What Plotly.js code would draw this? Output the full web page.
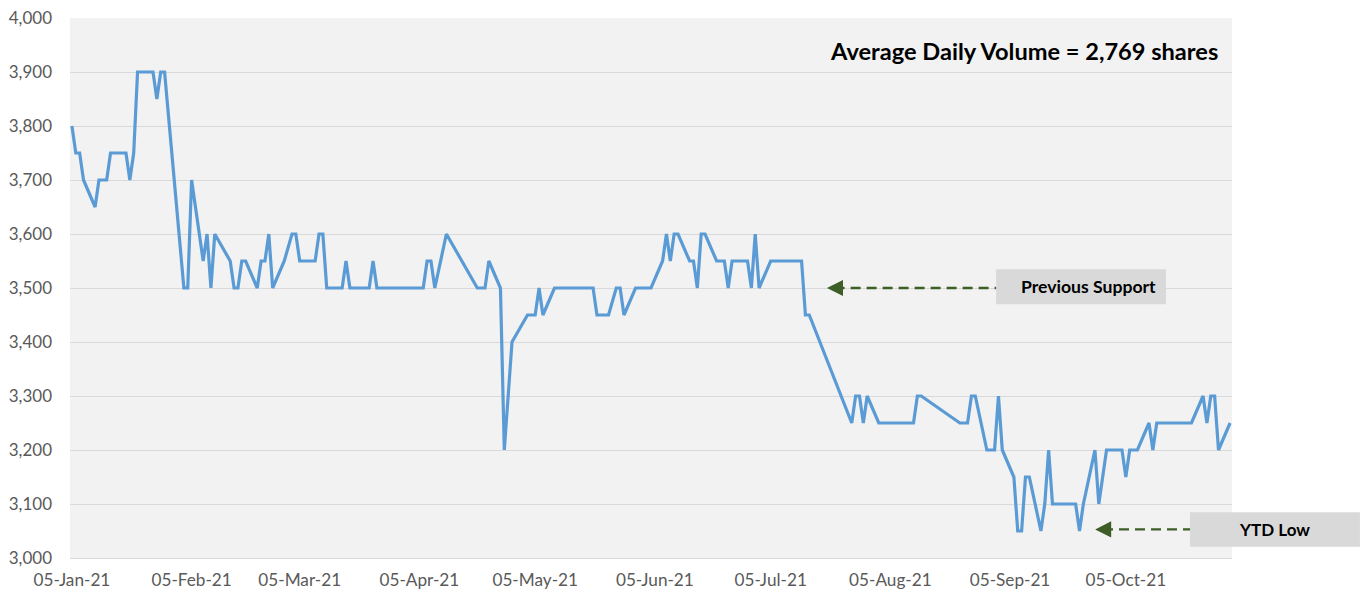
<!DOCTYPE html>
<html>
<head>
<meta charset="utf-8">
<script src="https://cdn.plot.ly/plotly-3.0.1.min.js"></script>
<style>
  html, body { margin: 0; padding: 0; background: #ffffff; }
  #chart { width: 1366px; height: 590px; }
</style>
</head>
<body>
<div id="chart"></div>
<script>
// ---- data ----
const tradeDates = [
  "2021-01-05","2021-01-06","2021-01-07","2021-01-08","2021-01-11","2021-01-12","2021-01-13","2021-01-14","2021-01-15",
  "2021-01-18","2021-01-19","2021-01-20","2021-01-21","2021-01-22","2021-01-25","2021-01-26","2021-01-27","2021-01-28","2021-01-29",
  "2021-02-03","2021-02-04","2021-02-05","2021-02-08","2021-02-09","2021-02-10","2021-02-11","2021-02-15","2021-02-16","2021-02-17",
  "2021-02-18","2021-02-19","2021-02-22","2021-02-23","2021-02-24","2021-02-25","2021-02-26","2021-03-01","2021-03-03","2021-03-04",
  "2021-03-05","2021-03-08","2021-03-09","2021-03-10","2021-03-11","2021-03-12","2021-03-15","2021-03-16","2021-03-17","2021-03-18",
  "2021-03-19","2021-03-22","2021-03-23","2021-03-24","2021-03-25","2021-03-26","2021-03-29","2021-03-30","2021-03-31","2021-04-01",
  "2021-04-06","2021-04-07","2021-04-08","2021-04-09","2021-04-12","2021-04-20","2021-04-21","2021-04-22","2021-04-23","2021-04-26",
  "2021-04-27","2021-04-29","2021-05-03","2021-05-04","2021-05-05","2021-05-06","2021-05-07","2021-05-10","2021-05-11","2021-05-12",
  "2021-05-13","2021-05-14","2021-05-17","2021-05-18","2021-05-19","2021-05-20","2021-05-21","2021-05-24","2021-05-26","2021-05-27",
  "2021-05-28","2021-05-31","2021-06-01","2021-06-02","2021-06-03","2021-06-04","2021-06-07","2021-06-08","2021-06-09","2021-06-10",
  "2021-06-11","2021-06-14","2021-06-15","2021-06-16","2021-06-17","2021-06-18","2021-06-21","2021-06-22","2021-06-23","2021-06-24",
  "2021-06-25","2021-06-28","2021-06-29","2021-06-30","2021-07-01","2021-07-02","2021-07-05","2021-07-06","2021-07-07","2021-07-08",
  "2021-07-09","2021-07-12","2021-07-13","2021-07-14","2021-07-15","2021-07-26","2021-07-27","2021-07-28","2021-07-29","2021-07-30",
  "2021-08-02","2021-08-03","2021-08-04","2021-08-05","2021-08-06","2021-08-10","2021-08-11","2021-08-12","2021-08-13","2021-08-23",
  "2021-08-24","2021-08-25","2021-08-26","2021-08-27","2021-08-30","2021-08-31","2021-09-01","2021-09-02","2021-09-03","2021-09-06",
  "2021-09-07","2021-09-08","2021-09-09","2021-09-10","2021-09-13","2021-09-14","2021-09-15","2021-09-16","2021-09-17","2021-09-20",
  "2021-09-21","2021-09-22","2021-09-23","2021-09-24","2021-09-27","2021-09-28","2021-09-30","2021-10-01","2021-10-04","2021-10-05",
  "2021-10-06","2021-10-07","2021-10-08","2021-10-11","2021-10-12","2021-10-13","2021-10-14","2021-10-15","2021-10-18","2021-10-19",
  "2021-10-20","2021-10-21","2021-10-22","2021-10-25","2021-10-26","2021-10-27","2021-10-28","2021-10-29","2021-11-01"
];
const closePrices = [
  3800,3750,3750,3700,3650,3700,3700,3700,3750,
  3750,3750,3700,3750,3900,3900,3900,3850,3900,3900,
  3500,3500,3700,3550,3600,3500,3600,3550,3500,3500,
  3550,3550,3500,3550,3550,3600,3500,3550,3600,3600,
  3550,3550,3550,3600,3600,3500,3500,3500,3550,3500,
  3500,3500,3500,3550,3500,3500,3500,3500,3500,3500,
  3500,3550,3550,3500,3600,3500,3500,3500,3550,3500,
  3200,3400,3450,3450,3450,3500,3450,3500,3500,3500,
  3500,3500,3500,3500,3500,3500,3450,3450,3500,3500,
  3450,3500,3500,3500,3500,3500,3550,3600,3550,3600,
  3600,3550,3550,3500,3600,3600,3550,3550,3550,3500,
  3550,3550,3550,3500,3600,3500,3550,3550,3550,3550,
  3550,3550,3550,3450,3450,3250,3300,3300,3250,3300,
  3250,3250,3250,3250,3250,3250,3250,3300,3300,3250,
  3250,3250,3300,3300,3200,3200,3200,3300,3200,3150,
  3050,3050,3150,3150,3050,3100,3200,3100,3100,3100,
  3100,3100,3050,3100,3200,3100,3200,3200,3200,3150,
  3200,3200,3200,3250,3200,3250,3250,3250,3250,3250,
  3250,3250,3250,3300,3250,3300,3300,3200,3250
];
const tickDates = ["2021-01-05","2021-02-05","2021-03-05","2021-04-05","2021-05-05","2021-06-05","2021-07-05","2021-08-05","2021-09-05","2021-10-05"];
const tickLabels = ["05-Jan-21","05-Feb-21","05-Mar-21","05-Apr-21","05-May-21","05-Jun-21","05-Jul-21","05-Aug-21","05-Sep-21","05-Oct-21"];
const yRange = [3000, 4000];
const titleText = "Average Daily Volume = 2,769 shares";
const supportLabel = "Previous Support";
const supportLevel = 3500;
const lowLabel = "YTD Low";
const lowLevel = 3050;

// ---- chart ----
const FONT = "Lato, 'Open Sans', sans-serif";
const arrowGreen = "#3d5f27";

const trace = {
  x: tradeDates,
  y: closePrices,
  type: "scatter",
  mode: "lines",
  line: { color: "#5b9bd5", width: 3.2 },
  hoverinfo: "x+y"
};

const layout = {
  width: 1366,
  height: 590,
  margin: { l: 70, r: 134, t: 18, b: 32, pad: 0 },
  paper_bgcolor: "#ffffff",
  plot_bgcolor: "#f2f2f2",
  showlegend: false,
  font: { family: FONT, color: "#595959", size: 17 },
  xaxis: {
    type: "date",
    range: ["2021-01-04 12:00", "2021-11-01 12:00"],
    tickvals: tickDates,
    ticktext: tickLabels,
    showgrid: false,
    zeroline: false,
    showline: true,
    linecolor: "#d9d9d9",
    linewidth: 1,
    ticks: "",
    ticklabelstandoff: 6,
    tickfont: { family: FONT, size: 17.2, color: "#595959" },
    fixedrange: true
  },
  yaxis: {
    range: yRange,
    dtick: 100,
    tick0: 3000,
    tickformat: ",",
    showgrid: true,
    gridcolor: "#d9d9d9",
    gridwidth: 1,
    zeroline: false,
    showline: false,
    ticks: "",
    ticklabelstandoff: 17,
    tickfont: { family: FONT, size: 17, color: "#595959" },
    fixedrange: true
  },
  shapes: [
    // Previous Support box
    { type: "rect", xref: "paper", yref: "paper", x0: 0.797, x1: 0.9432, y0: 0.4698, y1: 0.5346,
      fillcolor: "#d9d9d9", line: { width: 0 }, layer: "above" },
    // YTD Low box
    { type: "rect", xref: "paper", yref: "paper", x0: 0.9639, x1: 1.1101, y0: 0.0209, y1: 0.0846,
      fillcolor: "#d9d9d9", line: { width: 0 }, layer: "above" },
    // dashed arrow shafts
    { type: "line", xref: "paper", yref: "y", x0: 0.658, x1: 0.797, y0: supportLevel, y1: supportLevel,
      line: { color: arrowGreen, width: 2.3, dash: "10px,6px" }, layer: "above" },
    { type: "line", xref: "paper", yref: "y", x0: 0.889, x1: 0.9639, y0: lowLevel + 3, y1: lowLevel + 3,
      line: { color: arrowGreen, width: 2.3, dash: "10px,6px" }, layer: "above" }
  ],
  annotations: [
    { xref: "paper", yref: "paper", x: 0.9897, y: 0.939, xanchor: "right", yanchor: "middle",
      text: "<b>" + titleText + "</b>", showarrow: false,
      font: { family: FONT, size: 23.6, color: "#000000" } },
    { xref: "paper", yref: "paper", x: 0.8764, y: 0.5019, xanchor: "center", yanchor: "middle",
      text: "<b>" + supportLabel + "</b>", showarrow: false,
      font: { family: FONT, size: 17.6, color: "#000000" } },
    { xref: "paper", yref: "paper", x: 1.037, y: 0.0528, xanchor: "center", yanchor: "middle",
      text: "<b>" + lowLabel + "</b>", showarrow: false,
      font: { family: FONT, size: 17, color: "#000000" } },
    // arrow heads
    { xref: "paper", yref: "y", x: 0.6514, y: supportLevel, ax: 13, ay: 0, text: "",
      showarrow: true, arrowhead: 2, arrowsize: 1.4, arrowwidth: 2.3, arrowcolor: arrowGreen },
    { xref: "paper", yref: "y", x: 0.8822, y: lowLevel + 3, ax: 13, ay: 0, text: "",
      showarrow: true, arrowhead: 2, arrowsize: 1.4, arrowwidth: 2.3, arrowcolor: arrowGreen }
  ]
};

Plotly.newPlot("chart", [trace], layout, { displayModeBar: false, staticPlot: true });
</script>
</body>
</html>
